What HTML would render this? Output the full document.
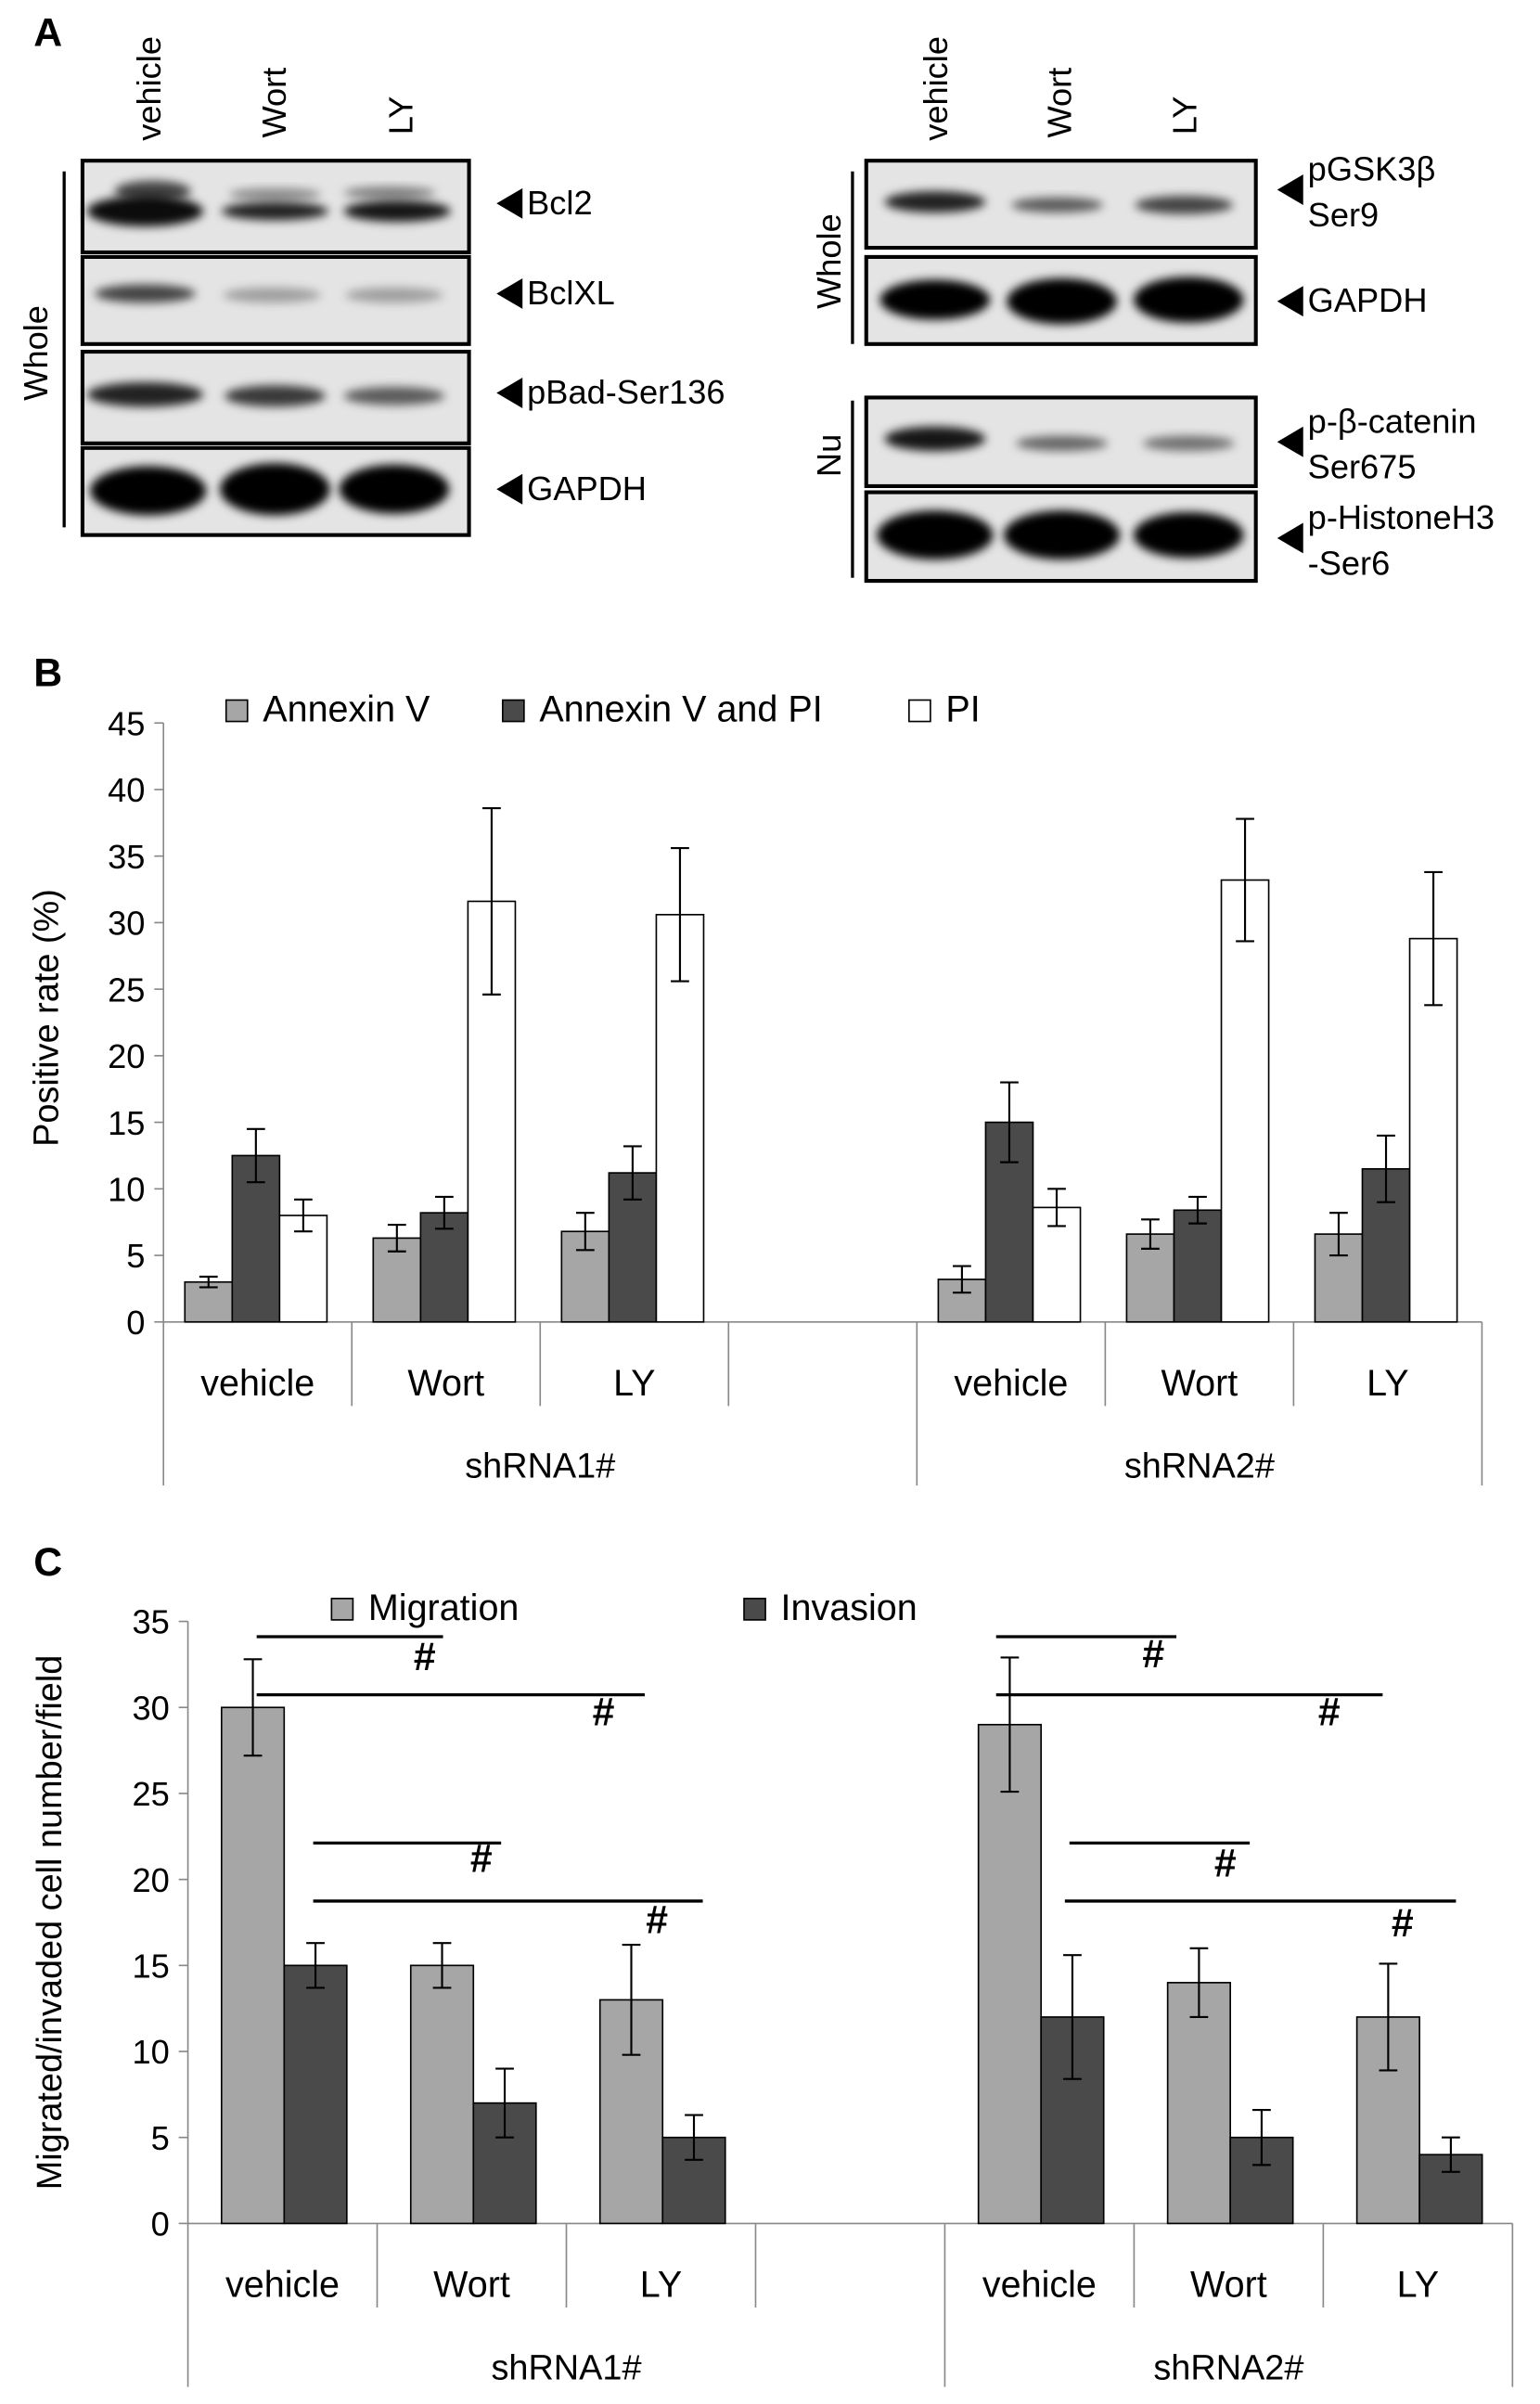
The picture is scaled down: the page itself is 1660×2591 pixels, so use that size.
<!DOCTYPE html>
<html><head><meta charset="utf-8"><style>
html,body{margin:0;padding:0;background:#fff;}
svg{display:block;font-family:"Liberation Sans",sans-serif;}
</style></head><body>
<svg id="fig" width="1660" height="2591" viewBox="0 0 1008 1573" xmlns="http://www.w3.org/2000/svg">
<defs>
<filter id="bl" x="-20%" y="-50%" width="140%" height="200%"><feGaussianBlur stdDeviation="3"/></filter>
</defs>
<g id="panelA"></g>
<g id="panelB"></g>
<g id="panelC"></g>
</svg>
<script>
// ---- Panel B data ----
const bCategories = ["vehicle","Wort","LY","","vehicle","Wort","LY"];
const bGroups = ["shRNA1#","shRNA2#"];
const bSeriesNames = ["Annexin V","Annexin V and PI","PI"];
const bAnnexin = [3.0, 6.3, 6.8, null, 3.2, 6.6, 6.6];
const bAnnexinPI = [12.5, 8.2, 11.2, null, 15.0, 8.4, 11.5];
const bPI = [8.0, 31.6, 30.6, null, 8.6, 33.2, 28.8];
const bAnnexinErr = [0.4, 1.0, 1.4, null, 1.0, 1.1, 1.6];
const bAnnexinPIErr = [2.0, 1.2, 2.0, null, 3.0, 1.0, 2.5];
const bPIErr = [1.2, 7.0, 5.0, null, 1.4, 4.6, 5.0];
const bTicks = [0,5,10,15,20,25,30,35,40,45];
// ---- Panel C data ----
const cCategories = ["vehicle","Wort","LY","","vehicle","Wort","LY"];
const cGroups = ["shRNA1#","shRNA2#"];
const cSeriesNames = ["Migration","Invasion"];
const cMigration = [30, 15, 13, null, 29, 14, 12];
const cInvasion = [15, 7, 5, null, 12, 5, 4];
const cMigrationErr = [2.8, 1.3, 3.2, null, 3.9, 2.0, 3.1];
const cInvasionErr = [1.3, 2.0, 1.3, null, 3.6, 1.6, 1.0];
const cTicks = [0,5,10,15,20,25,30,35];

const NS="http://www.w3.org/2000/svg";
function mk(parent,tag,attrs,text){const e=document.createElementNS(NS,tag);for(const k in attrs)e.setAttribute(k,attrs[k]);if(text!==undefined)e.textContent=text;parent.appendChild(e);return e;}

// ---------- Panel A ----------
const A=document.getElementById('panelA');
let t=mk(A,'text',{x:22,y:30,'font-size':26,'font-weight':'bold'},'A');

function lanes(xs){['vehicle','Wort','LY'].forEach((s,i)=>{const e=mk(A,'text',{transform:`translate(${xs[i]},${i==0?92:(i==1?90:88)}) rotate(-90)`,'font-size':22},s);
});}
lanes([105,187,270]);lanes([620,701,783]);
function blot(x,y,w,h,bands,name){
  const g=mk(A,'g',{});
  mk(g,'rect',{x:x,y:y,width:w,height:h,fill:'#e4e4e4'});
  bands.forEach(b=>mk(g,'ellipse',{cx:b[0],cy:b[1],rx:b[2],ry:b[3],fill:'#000','fill-opacity':b[4],filter:'url(#bl)'}));
  mk(g,'rect',{x:x,y:y,width:w,height:h,fill:'none',stroke:'#000','stroke-width':2.5});
}
function label(x,y,lines,name){
  const g=mk(A,'g',{});
  const cy=lines.length==1?y-7:y+6;
  mk(g,'polygon',{points:`${x},${cy} ${x+17},${cy-10} ${x+17},${cy+10}`,fill:'#000'});
  lines.forEach((l,i)=>mk(g,'text',{x:x+20,y:y+i*30,'font-size':22},l));
}
blot(54,105,253,60,[[95,138,38,10,0.95],[180,138,35,6,0.85],[260,138,35,7,0.9],[100,125,25,7,0.7],[180,127,30,4,0.4],[255,126,30,4,0.45]],'blot-bcl2');
blot(54,168,253,57,[[95,192,33,6,0.7],[178,193,32,5,0.3],[258,193,32,5,0.3]],'blot-bclxl');
blot(54,230,253,60,[[95,258,38,8,0.85],[180,259,33,7,0.75],[258,259,33,6,0.6]],'blot-pbad');
blot(54,293,253,57,[[97,321,38,16,1],[180,320,36,17,1],[258,320,36,16,1]],'blot-gapdh-left');
label(325,140,['Bcl2'],'label-bcl2');
label(325,199,['BclXL'],'label-bclxl');
label(325,264,['pBad-Ser136'],'label-pbad');
label(325,327,['GAPDH'],'label-gapdh-left');
mk(A,'line',{x1:42,y1:112,x2:42,y2:345,stroke:'#000','stroke-width':2});
t=mk(A,'text',{transform:'translate(31,262) rotate(-90)','font-size':22},'Whole');

blot(567,105,255,57,[[612,132,33,7,0.85],[692,134,30,5,0.6],[775,134,32,6,0.7]],'blot-pgsk3b');
blot(567,168,255,57,[[612,196,36,13,1],[695,197,36,15,1],[778,196,36,15,1]],'blot-gapdh-right');
blot(567,260,255,58,[[612,287,33,8,0.9],[695,290,30,5,0.55],[778,290,30,5,0.5]],'blot-pbcatenin');
blot(567,322,255,58,[[612,350,38,16,1],[695,350,38,16,1],[778,350,36,15,1]],'blot-histoneh3');
label(836,118,['pGSK3β','Ser9'],'label-pgsk3b');
label(836,204,['GAPDH'],'label-gapdh-right');
label(836,283,['p-β-catenin','Ser675'],'label-pbcatenin');
label(836,346,['p-HistoneH3','-Ser6'],'label-histoneh3');
mk(A,'line',{x1:558,y1:112,x2:558,y2:225,stroke:'#000','stroke-width':2});
mk(A,'line',{x1:558,y1:262,x2:558,y2:378,stroke:'#000','stroke-width':2});
t=mk(A,'text',{transform:'translate(550,202) rotate(-90)','font-size':22},'Whole');
t=mk(A,'text',{transform:'translate(550,312) rotate(-90)','font-size':22},'Nu');

// ---------- generic bar chart ----------
function chart(G,o){
  const y=v=>o.y0-(v-o.tMin)*(o.y0-o.yTop)/(o.tMax-o.tMin);
  const slot=(o.xR-o.xL)/o.cats.length;
  let e=mk(G,'text',{x:22,y:o.letterY,'font-size':26,'font-weight':'bold'},o.letter);
  
  mk(G,'line',{x1:o.xL,y1:o.yTop,x2:o.xL,y2:o.y0,stroke:'#888','stroke-width':1});
  o.ticks.forEach(v=>{mk(G,'line',{x1:o.xL-6,y1:y(v),x2:o.xL,y2:y(v),stroke:'#888'});
    const tl=mk(G,'text',{x:o.xL-12,y:y(v)+8,'font-size':22,'text-anchor':'end'},v);
    });
  e=mk(G,'text',{transform:`translate(${o.titleX},${o.titleY}) rotate(-90)`,'font-size':23,'text-anchor':'middle'},o.title);
  
  mk(G,'line',{x1:o.xL,y1:o.y0,x2:o.xR,y2:o.y0,stroke:'#888'});
  for(let i=0;i<=o.cats.length;i++){const x=o.xL+i*slot;const full=(i==0||i==o.cats.length||i==4);
    mk(G,'line',{x1:x,y1:o.y0,x2:x,y2:full?o.yBot:o.yMid,stroke:'#888'});}
  o.cats.forEach((c,i)=>{const cl=mk(G,'text',{x:o.xL+(i+0.5)*slot,y:o.y0+48,'font-size':24,'text-anchor':'middle'},c);
    });
  o.groups.forEach((g,i)=>{const gl=mk(G,'text',{x:o.xL+(i==0?2:5.5)*slot,y:o.y0+102,'font-size':23,'text-anchor':'middle'},g);
    });
  o.series.forEach((s,si)=>{s.vals.forEach((v,i)=>{if(v==null)return;
    const x=o.xL+i*slot+o.off+si*o.bw;
    const r=mk(G,'rect',{x:x,y:y(v),width:o.bw,height:o.y0-y(v),fill:s.color,stroke:'#000','stroke-width':1});
    
    const er=s.err[i],cx=x+o.bw/2;
    const eg=mk(G,'path',{d:`M${cx},${y(v+er)}V${y(v-er)}M${cx-6},${y(v+er)}H${cx+6}M${cx-6},${y(v-er)}H${cx+6}`,stroke:'#000','stroke-width':1.3,fill:'none'});
    
  });});
  o.legend.forEach((l,i)=>{const lg=mk(G,'g',{});
    mk(lg,'rect',{x:l.x,y:o.legY-14,width:14,height:14,fill:o.series[i].color,stroke:'#000'});
    mk(lg,'text',{x:l.x+24,y:o.legY,'font-size':24},o.series[i].name);});
  return y;
}
const B=document.getElementById('panelB');
chart(B,{letter:'B',letterY:449,cats:bCategories,groups:bGroups,xL:107,xR:970,y0:865,yTop:473,tMin:0,tMax:45,ticks:bTicks,
  yMid:920,yBot:972,off:14,bw:31,title:'Positive rate (%)',titleX:38,titleY:666,legY:472,
  series:[{name:bSeriesNames[0],vals:bAnnexin,err:bAnnexinErr,color:'#a6a6a6'},{name:bSeriesNames[1],vals:bAnnexinPI,err:bAnnexinPIErr,color:'#4a4a4a'},{name:bSeriesNames[2],vals:bPI,err:bPIErr,color:'#fff'}],
  legend:[{x:148},{x:329},{x:595}]});
const C=document.getElementById('panelC');
const yc=chart(C,{letter:'C',letterY:1031,cats:cCategories,groups:cGroups,xL:123,xR:990,y0:1455,yTop:1061,tMin:0,tMax:35,ticks:cTicks,
  yMid:1510,yBot:1562,off:22,bw:41,title:'Migrated/invaded cell number/field',titleX:40,titleY:1258,legY:1060,
  series:[{name:cSeriesNames[0],vals:cMigration,err:cMigrationErr,color:'#a6a6a6'},{name:cSeriesNames[1],vals:cInvasion,err:cInvasionErr,color:'#4a4a4a'}],
  legend:[{x:217},{x:487}]});
[[168,290,1068,278,1090],[168,422,1106,395,1126],[205,328,1203,315,1222],[205,460,1241,430,1262],
 [652,770,1068,755,1088],[652,905,1106,870,1126],[700,818,1203,802,1225],[697,953,1241,918,1264]].forEach(s=>{
  const g=mk(C,'g',{});
  mk(g,'line',{x1:s[0],y1:s[2]+3,x2:s[1],y2:s[2]+3,stroke:'#000','stroke-width':2});
  mk(g,'text',{x:s[3],y:s[4]+3,'font-size':26,'font-weight':'bold','text-anchor':'middle'},'#');
});
</script>
</body></html>
